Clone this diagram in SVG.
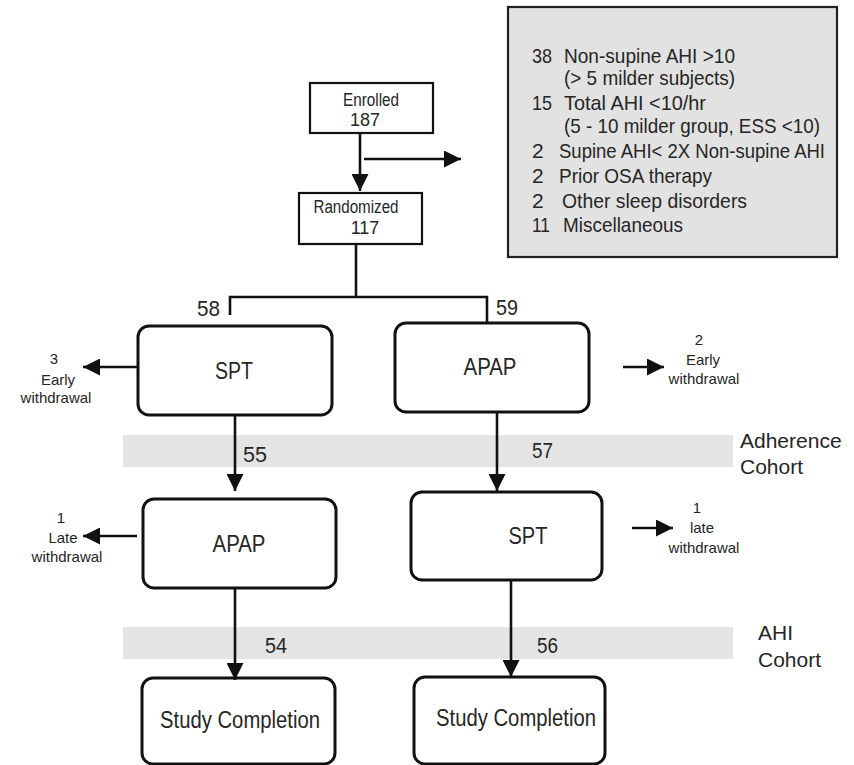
<svg xmlns="http://www.w3.org/2000/svg" width="854" height="765" viewBox="0 0 854 765">
<style>
text{font-family:"Liberation Sans",Arial,sans-serif;fill:#262626}
.box{fill:#fff;stroke:#111;stroke-width:2.2}
.rbox{fill:#fff;stroke:#111;stroke-width:3}
.ln{stroke:#111;stroke-width:2.6;fill:none}
.arr{stroke:#111;stroke-width:2.6;fill:none;marker-end:url(#ah)}
.band{fill:#e4e4e4}
.big{font-size:23px;text-anchor:middle}
.num{font-size:22px}
.sm{font-size:15px;text-anchor:middle}
.info{font-size:21px}
.mid{font-size:18px;text-anchor:middle}
.lab{font-size:21px}
</style>
<defs>
<marker id="ah" viewBox="0 0 17 17" refX="17" refY="8.5" markerWidth="17" markerHeight="17" markerUnits="userSpaceOnUse" orient="auto">
<path d="M0,0 L17,8.5 L0,17 Z" fill="#111"/>
</marker>
</defs>
<rect width="854" height="765" fill="#fff"/>

<g id="bands">
<rect class="band" x="123" y="435" width="610" height="32"/>
<rect class="band" x="123" y="627" width="610" height="32"/>
</g>

<g id="exclusions">
<rect x="508" y="7" width="329" height="250" fill="#e2e2e2" stroke="#222" stroke-width="2.2"/>
<text class="info" x="532" y="63" textLength="20" lengthAdjust="spacingAndGlyphs">38</text>
<text class="info" x="564" y="63" textLength="171" lengthAdjust="spacingAndGlyphs">Non-supine AHI &gt;10</text>
<text class="info" x="564" y="85" textLength="171" lengthAdjust="spacingAndGlyphs">(&gt; 5 milder subjects)</text>
<text class="info" x="532" y="110" textLength="20" lengthAdjust="spacingAndGlyphs">15</text>
<text class="info" x="564" y="110" textLength="142" lengthAdjust="spacingAndGlyphs">Total AHI &lt;10/hr</text>
<text class="info" x="564" y="133" textLength="256" lengthAdjust="spacingAndGlyphs">(5 - 10 milder group, ESS &lt;10)</text>
<text class="info" x="532" y="158">2</text>
<text class="info" x="559" y="158" textLength="266" lengthAdjust="spacingAndGlyphs">Supine AHI&lt; 2X Non-supine AHI</text>
<text class="info" x="532" y="183">2</text>
<text class="info" x="559" y="183" textLength="153" lengthAdjust="spacingAndGlyphs">Prior OSA therapy</text>
<text class="info" x="532" y="208">2</text>
<text class="info" x="562" y="208" textLength="185" lengthAdjust="spacingAndGlyphs">Other sleep disorders</text>
<text class="info" x="532" y="232" textLength="18" lengthAdjust="spacingAndGlyphs">11</text>
<text class="info" x="563" y="232" textLength="120" lengthAdjust="spacingAndGlyphs">Miscellaneous</text>
</g>

<g id="enrolled">
<rect class="box" x="310" y="83" width="123" height="50"/>
<text class="mid" x="371" y="106" textLength="56" lengthAdjust="spacingAndGlyphs">Enrolled</text>
<text class="mid" x="365" y="126">187</text>
</g>

<g id="randomized">
<rect class="box" x="299" y="193" width="123" height="51"/>
<text class="mid" x="356" y="213" textLength="85" lengthAdjust="spacingAndGlyphs">Randomized</text>
<text class="mid" x="365" y="234">117</text>
</g>

<g id="spt1">
<rect class="rbox" x="138" y="326" width="194" height="89" rx="11"/>
<text class="big" x="234" y="379" textLength="38" lengthAdjust="spacingAndGlyphs">SPT</text>
</g>
<g id="apap1">
<rect class="rbox" x="395" y="323" width="194" height="89" rx="11"/>
<text class="big" x="490" y="375" textLength="53" lengthAdjust="spacingAndGlyphs">APAP</text>
</g>
<g id="apap2">
<rect class="rbox" x="143" y="499" width="193" height="89" rx="11"/>
<text class="big" x="239" y="552" textLength="53" lengthAdjust="spacingAndGlyphs">APAP</text>
</g>
<g id="spt2">
<rect class="rbox" x="411" y="492" width="191" height="88" rx="11"/>
<text class="big" x="528" y="544" textLength="39" lengthAdjust="spacingAndGlyphs">SPT</text>
</g>
<g id="complete1">
<rect class="rbox" x="142" y="678" width="193" height="86" rx="11"/>
<text class="big" x="240" y="728" textLength="160" lengthAdjust="spacingAndGlyphs">Study Completion</text>
</g>
<g id="complete2">
<rect class="rbox" x="414" y="677" width="191" height="87" rx="11"/>
<text class="big" x="516" y="726" textLength="160" lengthAdjust="spacingAndGlyphs">Study Completion</text>
</g>

<g id="connectors">
<line class="arr" x1="360" y1="133" x2="360" y2="191"/>
<line class="arr" x1="364" y1="159" x2="461" y2="159"/>
<polyline class="ln" points="356,244 356,297"/>
<polyline class="ln" points="230,315 230,297 487,297 487,323"/>
<line class="arr" x1="137" y1="367" x2="83" y2="367"/>
<line class="arr" x1="623" y1="367" x2="664" y2="367"/>
<line class="arr" x1="235" y1="415" x2="235" y2="491"/>
<line class="arr" x1="497" y1="412" x2="497" y2="491"/>
<line class="arr" x1="137" y1="536" x2="83" y2="536"/>
<line class="arr" x1="632" y1="528" x2="673" y2="528"/>
<line class="arr" x1="235" y1="588" x2="235" y2="680"/>
<line class="arr" x1="511" y1="580" x2="511" y2="677"/>
</g>

<g id="labels">
<text class="num" x="197" y="316" textLength="23" lengthAdjust="spacingAndGlyphs">58</text>
<text class="num" x="496" y="315" textLength="22" lengthAdjust="spacingAndGlyphs">59</text>
<text class="num" x="243" y="462" textLength="24" lengthAdjust="spacingAndGlyphs">55</text>
<text class="num" x="532" y="458" textLength="21" lengthAdjust="spacingAndGlyphs">57</text>
<text class="num" x="265" y="653" textLength="22" lengthAdjust="spacingAndGlyphs">54</text>
<text class="num" x="537" y="653" textLength="21" lengthAdjust="spacingAndGlyphs">56</text>
<text class="sm" x="54" y="364">3</text>
<text class="sm" x="58" y="385">Early</text>
<text class="sm" x="56" y="403">withdrawal</text>
<text class="sm" x="699" y="345">2</text>
<text class="sm" x="703" y="365">Early</text>
<text class="sm" x="704" y="384">withdrawal</text>
<text class="sm" x="61" y="523">1</text>
<text class="sm" x="63" y="543">Late</text>
<text class="sm" x="67" y="562">withdrawal</text>
<text class="sm" x="697" y="513">1</text>
<text class="sm" x="702" y="533">late</text>
<text class="sm" x="704" y="553">withdrawal</text>
<text class="lab" x="740" y="448">Adherence</text>
<text class="lab" x="740" y="474">Cohort</text>
<text class="lab" x="758" y="640">AHI</text>
<text class="lab" x="758" y="667">Cohort</text>
</g>
</svg>
